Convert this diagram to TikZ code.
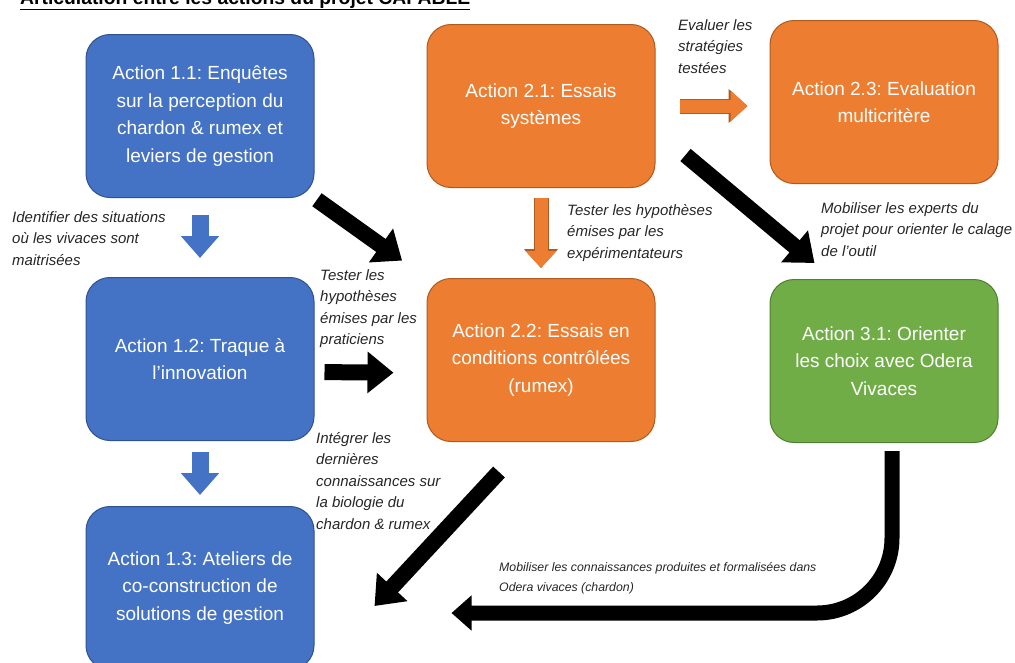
\documentclass[tikz,border=0pt]{standalone}
\usepackage{fontspec}
\setmainfont{Liberation Sans}
\usetikzlibrary{arrows.meta,calc}
\frenchspacing

\definecolor{actblue}{HTML}{4472C4}
\definecolor{actblueline}{HTML}{2F528F}
\definecolor{actorange}{HTML}{ED7D31}
\definecolor{actorangeline}{HTML}{AE5A21}
\definecolor{actgreen}{HTML}{70AD47}
\definecolor{actgreenline}{HTML}{507E32}

\tikzset{
  action/.style={line width=1pt, rounded corners=24pt, text=white, align=center,
    minimum width=228pt, minimum height=163pt, inner sep=4pt,
    font=\fontsize{19}{27.5}\selectfont},
  bluebox/.style={action, fill=actblue, draw=actblueline},
  orangebox/.style={action, fill=actorange, draw=actorangeline},
  greenbox/.style={action, fill=actgreen, draw=actgreenline},
  note/.style={anchor=north west, inner sep=0pt, align=left, text=black!85,
    font=\fontsize{15}{21.5}\selectfont\itshape},
  blackarr/.style={draw=black, line width=16pt, -{Triangle[length=26pt,width=40pt]}},
  bluearr/.style={draw=actblue, line width=17pt, -{Triangle[length=22pt,width=37pt]}},
  orangearr/.style={draw=actorange, line width=13pt, -{Triangle[length=17pt,width=30pt]},
    preaction={draw=actorangeline, line width=15pt, -{Triangle[length=19pt,width=33pt]}}},
}

\begin{document}
\begin{tikzpicture}[x=1pt, y=-1pt]

  \useasboundingbox (0,0) rectangle (1015,662);
  \clip (0,0) rectangle (1015,662);

  % title, cut at the top of the slide
  \node[anchor=base west, inner sep=0pt, text=black,
    font=\fontsize{19.3}{23}\selectfont\bfseries] (title) at (20,4)
    {\underline{Articulation entre les actions du projet CAPABLE}};

  % actions
  \node[bluebox] (a11) at (200,116) {Action 1.1: Enquêtes\\sur la perception du\\chardon \& rumex et\\leviers de gestion};
  \node[bluebox] (a12) at (200,359) {Action 1.2: Traque à\\l’innovation};
  \node[bluebox] (a13) at (200,588) {Action 1.3: Ateliers de\\co-construction de\\solutions de gestion};
  \node[orangebox] (a21) at (541,106) {Action 2.1: Essais\\systèmes};
  \node[orangebox] (a23) at (884,102) {Action 2.3: Evaluation\\multicritère};
  \node[orangebox] (a22) at (541,360) {Action 2.2: Essais en\\conditions contrôlées\\(rumex)};
  \node[greenbox] (a31) at (884,361) {Action 3.1: Orienter\\les choix avec Odera\\Vivaces};

  % links
  \draw[bluearr, shorten <=17pt, shorten >=19pt] (a11) -- (a12);
  \draw[bluearr, shorten <=11pt, shorten >=11pt] (a12) -- (a13);
  \draw[blackarr, shorten <=3pt, shorten >=30pt] (a11.south east) -- (a22.north west);
  \draw[blackarr, shorten <=10pt, shorten >=33pt] ([yshift=-13pt]a12.east) -- ([yshift=-13pt]a22.west);
  \draw[orangearr, shorten <=10pt, shorten >=10pt] (a21) -- (a22);
  \draw[orangearr, shorten <=24pt, shorten >=22pt] (a21.east) -- (a21.east -| a23.west);
  \draw[blackarr] ($(a21.south east)+(30,-33)$) -- ($(a31.north west)+(45,-16)$);
  \draw[blackarr] ($(a22.south)+(-42,30)$) -- ($(a13.east)+(60,18)$);
  \draw[blackarr, line width=15pt, rounded corners=75pt,
    -{Triangle[length=20pt,width=34pt]}] ($(a31.south)+(8,8)$) |- ($(a13.east)+(137,25)$);

  % link labels
  \node[note] (nident) at (12,211) {Identifier des situations\\où les vivaces sont\\maitrisées};
  \node[note] (nprat) at (320,269) {Tester les\\hypothèses\\émises par les\\praticiens};
  \node[note] (ninteg) at (316,432) {Intégrer les\\dernières\\connaissances sur\\la biologie du\\chardon \& rumex};
  \node[note] (nexper) at (567,204) {Tester les hypothèses\\émises par les\\expérimentateurs};
  \node[note] (nexperts) at (821,202) {Mobiliser les experts du\\projet pour orienter le calage\\de l’outil};
  \node[note] (neval) at (678,19) {Evaluer les\\stratégies\\testées};
  \node[note, font=\fontsize{12.3}{20}\selectfont\itshape] (nmobil) at (499,562)
    {Mobiliser les connaissances produites et formalisées dans\\Odera vivaces (chardon)};

\end{tikzpicture}
\end{document}
